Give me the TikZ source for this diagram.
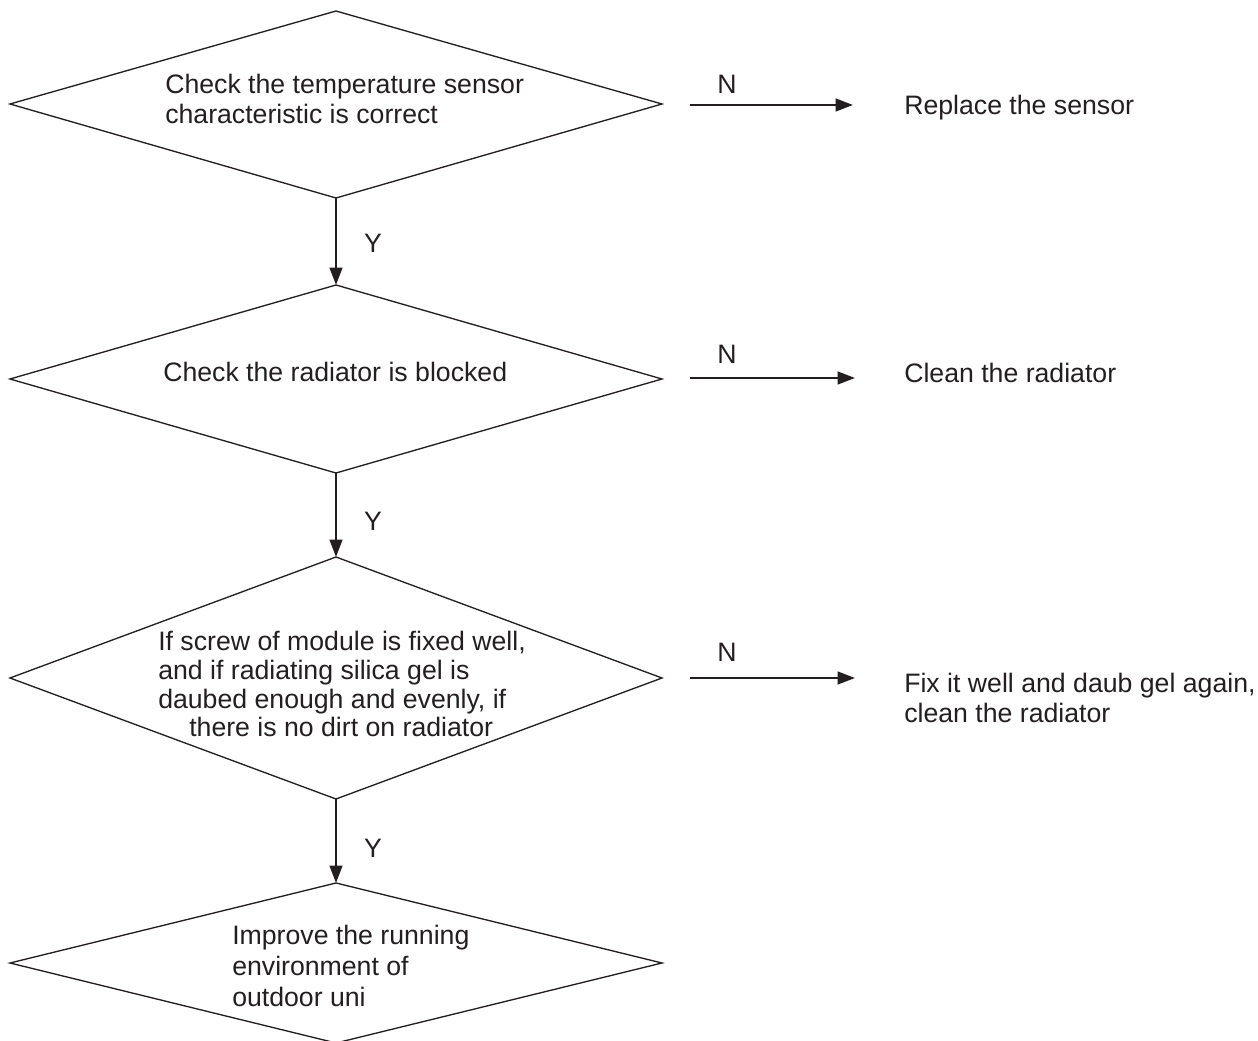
\documentclass[tikz,border=0pt]{standalone}
\usepackage{fontspec}
\setmainfont{Liberation Sans}
\usetikzlibrary{arrows.meta}
\definecolor{ink}{RGB}{35,31,32}
\begin{document}
\begin{tikzpicture}[x=0.75pt,y=-0.75pt,
  dia/.style={draw=ink, line width=1pt, line join=miter},
  arr/.style={draw=ink, line width=1.6pt, -{Triangle[length=13pt,width=9.5pt]}},
  txt/.style={anchor=base west, inner sep=0pt, text=ink, font=\fontsize{20pt}{22pt}\selectfont},
  lbl/.style={anchor=base, inner sep=0pt, text=ink, font=\fontsize{20pt}{22pt}\selectfont}]
\useasboundingbox (0,0) rectangle (1258,1041);
% diamond vertices
\coordinate (d1t) at (336,11);  \coordinate (d1r) at (662,104); \coordinate (d1b) at (336,198);  \coordinate (d1l) at (10,104);
\coordinate (d2t) at (336,285); \coordinate (d2r) at (662,379); \coordinate (d2b) at (336,473);  \coordinate (d2l) at (10,379);
\coordinate (d3t) at (336,557); \coordinate (d3r) at (662,678); \coordinate (d3b) at (336,799);  \coordinate (d3l) at (10,678);
\coordinate (d4t) at (336,883); \coordinate (d4r) at (662,963); \coordinate (d4b) at (336,1043); \coordinate (d4l) at (10,963);
\draw[dia] (d1t) -- (d1r) -- (d1b) -- (d1l) -- cycle;
\draw[dia] (d2t) -- (d2r) -- (d2b) -- (d2l) -- cycle;
\draw[dia] (d3t) -- (d3r) -- (d3b) -- (d3l) -- cycle;
\draw[dia] (d4t) -- (d4r) -- (d4b) -- (d4l) -- cycle;
% diamond texts
\node[txt] (t1a) at (165,94)  {Check the temperature sensor};
\node[txt] (t1b) at (165,124) {characteristic is correct};
\node[txt] (t2)  at (163,382) {Check the radiator is blocked};
\node[txt] (t3a) at (158,650) {If screw of module is fixed well,};
\node[txt] (t3b) at (158,679) {and if radiating silica gel is};
\node[txt] (t3c) at (158,708) {daubed enough and evenly, if};
\node[txt] (t3d) at (189,736) {there is no dirt on radiator};
\node[txt] (t4a) at (232,944)  {Improve the running};
\node[txt] (t4b) at (232,975)  {environment of};
\node[txt] (t4c) at (232,1006) {outdoor uni};
% right texts
\node[txt] (r1)  at (904,115) {Replace the sensor};
\node[txt] (r2)  at (904,383) {Clean the radiator};
\node[txt] (r3a) at (904,692) {Fix it well and daub gel again,};
\node[txt] (r3b) at (904,722) {clean the radiator};
% vertical arrows
\draw[arr] (d1b) -- (d2t);
\draw[arr] (d2b) -- (d3t);
\draw[arr] (d3b) -- (d4t);
\node[lbl] (y1) at (373,253) {Y};
\node[lbl] (y2) at (373,531) {Y};
\node[lbl] (y3) at (373,857) {Y};
% N arrows
\coordinate (n1s) at (690,105); \coordinate (n1e) at (853,105);
\coordinate (n2s) at (690,378); \coordinate (n2e) at (855,378);
\coordinate (n3s) at (690,678); \coordinate (n3e) at (855,678);
\draw[arr] (n1s) -- (n1e);
\draw[arr] (n2s) -- (n2e);
\draw[arr] (n3s) -- (n3e);
\node[lbl] (nl1) at (727,94)  {N};
\node[lbl] (nl2) at (727,364) {N};
\node[lbl] (nl3) at (727,661) {N};
\end{tikzpicture}
\end{document}
